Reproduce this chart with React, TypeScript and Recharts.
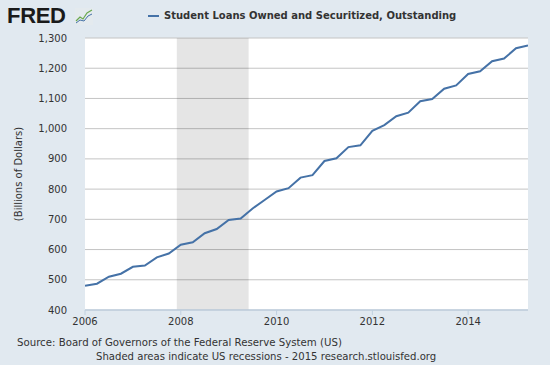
import React from "react";
import {
  LineChart,
  Line,
  XAxis,
  YAxis,
  CartesianGrid,
  ReferenceArea,
} from "recharts";

const quarters = [
  "2006Q1", "2006Q2", "2006Q3", "2006Q4",
  "2007Q1", "2007Q2", "2007Q3", "2007Q4",
  "2008Q1", "2008Q2", "2008Q3", "2008Q4",
  "2009Q1", "2009Q2", "2009Q3", "2009Q4",
  "2010Q1", "2010Q2", "2010Q3", "2010Q4",
  "2011Q1", "2011Q2", "2011Q3", "2011Q4",
  "2012Q1", "2012Q2", "2012Q3", "2012Q4",
  "2013Q1", "2013Q2", "2013Q3", "2013Q4",
  "2014Q1", "2014Q2", "2014Q3", "2014Q4",
  "2015Q1", "2015Q2",
];

const studentLoans = [
  480, 487, 510, 520,
  543, 547, 574, 587,
  616, 624, 654, 668,
  698, 703, 736, 764,
  792, 803, 838, 846,
  893, 902, 939, 945,
  993, 1012, 1041, 1053,
  1091, 1098, 1132, 1143,
  1181, 1190, 1223, 1232,
  1266, 1275,
];

const xTicks = [2006, 2008, 2010, 2012, 2014];
const yTicks = [400, 500, 600, 700, 800, 900, 1000, 1100, 1200, 1300];
const recession = { start: 2007 + 11 / 12, end: 2009 + 5 / 12 };

const seriesName = "Student Loans Owned and Securitized, Outstanding";
const sourceText = "Source: Board of Governors of the Federal Reserve System (US)";
const noteText = "Shaded areas indicate US recessions - 2015 research.stlouisfed.org";

const toYear = (q: string) =>
  parseInt(q.slice(0, 4), 10) + (parseInt(q.slice(5), 10) - 1) / 4;

const data = quarters.map((q, i) => ({ t: toYear(q), value: studentLoans[i] }));

const BG = "#e1e9f0";
const TEXT = "#333333";
const FONT = "'DejaVu Sans', Verdana, sans-serif";

export default function App() {
  return (
    <div
      style={{
        position: "absolute",
        left: 0,
        top: 0,
        width: 550,
        height: 365,
        background: BG,
        fontFamily: FONT,
        overflow: "hidden",
      }}
    >
      <LineChart
        width={550}
        height={365}
        data={data}
        margin={{ top: 38, right: 22, bottom: 25, left: 0 }}
      >
        <CartesianGrid
          vertical={false}
          stroke="#c4c4c4"
          fill="#ffffff"
          fillOpacity={1}
        />
        <ReferenceArea
          x1={recession.start}
          x2={recession.end}
          y1={400}
          y2={1300}
          fill="#000000"
          fillOpacity={0.1}
          stroke="none"
        />
        <XAxis
          dataKey="t"
          type="number"
          domain={[2006, 2015.25]}
          ticks={xTicks}
          height={30}
          stroke="#c0d0e0"
          tickSize={5}
          tickMargin={3}
          tick={{ fill: TEXT, fontSize: 10, fontFamily: FONT }}
          axisLine={{ stroke: "#c0d0e0", strokeWidth: 1.5 }}
          tickLine={{ stroke: "#c0d0e0" }}
          allowDataOverflow
        />
        <YAxis
          type="number"
          domain={[400, 1300]}
          ticks={yTicks}
          width={85}
          axisLine={false}
          tickLine={false}
          tickSize={0}
          tickMargin={18}
          tick={{ fill: TEXT, fontSize: 10, fontFamily: FONT }}
          tickFormatter={(v: number) => v.toLocaleString("en-US")}
        />
        <Line
          type="linear"
          dataKey="value"
          stroke="#4572a7"
          strokeWidth={2}
          dot={false}
          isAnimationActive={false}
        />
      </LineChart>

      {/* Y axis title */}
      <div
        style={{
          position: "absolute",
          left: 18,
          top: 174,
          transform: "translate(-50%, -50%) rotate(-90deg)",
          fontSize: 10,
          color: TEXT,
          whiteSpace: "nowrap",
        }}
      >
        (Billions of Dollars)
      </div>

      {/* FRED logo */}
      <div
        style={{
          position: "absolute",
          left: 7,
          top: 4,
          fontFamily: "'Liberation Sans', Arial, sans-serif",
          fontWeight: "bold",
          fontSize: 22,
          letterSpacing: -0.3,
          color: "#1a1a1a",
          lineHeight: "24px",
        }}
      >
        FRED
      </div>
      <svg
        style={{ position: "absolute", left: 75, top: 8 }}
        width={19}
        height={18}
      >
        <rect x={0} y={0} width={18} height={17} fill="#e4eaee" />
        <polyline
          points="1,13 5,9 8,11 12,5 17,2"
          fill="none"
          stroke="#6aa84f"
          strokeWidth={1.2}
        />
        <polyline
          points="1,15 5,12 9,13 13,8 17,6"
          fill="none"
          stroke="#4572a7"
          strokeWidth={1}
        />
      </svg>

      {/* Legend */}
      <div
        style={{
          position: "absolute",
          left: 148,
          top: 15,
          width: 11,
          height: 2,
          background: "#4572a7",
        }}
      />
      <div
        style={{
          position: "absolute",
          left: 164,
          top: 9,
          fontSize: 10,
          fontWeight: "bold",
          color: TEXT,
          whiteSpace: "nowrap",
          lineHeight: "14px",
        }}
      >
        {seriesName}
      </div>

      {/* Source / notes */}
      <div
        style={{
          position: "absolute",
          left: 17,
          top: 336,
          fontSize: 10.2,
          color: TEXT,
          whiteSpace: "nowrap",
          lineHeight: "13px",
        }}
      >
        {sourceText}
      </div>
      <div
        style={{
          position: "absolute",
          left: 96,
          top: 350,
          fontSize: 10.1,
          color: TEXT,
          whiteSpace: "nowrap",
          lineHeight: "13px",
        }}
      >
        {noteText}
      </div>
    </div>
  );
}
